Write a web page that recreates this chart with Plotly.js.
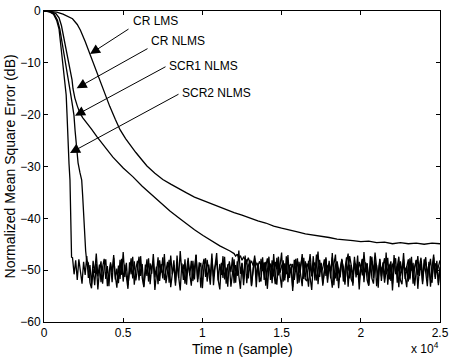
<!DOCTYPE html>
<html>
<head>
<meta charset="utf-8">
<script src="https://cdn.plot.ly/plotly-3.0.1.min.js"></script>
<style>
  html, body { margin: 0; padding: 0; background: #fff; }
  #chart { width: 453px; height: 359px; }
</style>
</head>
<body>
<div id="chart"></div>
<script>
// Learning curves: normalized MSE (dB) versus time n (samples)

// Sample spacing of the steady-state (noise floor) segments
const FLOOR_STEP = 100;

// CR LMS (slow convergence, no noise-floor segment within the window)
const crLmsX = [0, 400, 800, 1200, 1500, 1800, 2100, 2300, 2600, 2900, 3200, 3500, 3850, 4150, 4500, 4800,
  5150, 5450, 5800, 6200, 6500, 7000, 7500, 8000, 8500, 9000, 9500, 10000, 10500, 11000, 11500, 12000,
  12500, 13000, 13500, 14000, 14500, 15000, 15500, 16000, 16500, 17000, 17500, 18000, 18500, 19000,
  19500, 20000, 20500, 21000, 21500, 22000, 22500, 23000, 23500, 24000, 24500, 25000];
const crLmsY = [0, -0.1, -0.2, -0.6, -1.0, -1.5, -2.6, -3.7, -5.9, -8.4, -10.9, -13.2, -16.0, -18.4, -20.9, -22.9,
  -24.6, -25.9, -27.3, -28.8, -29.9, -31.3, -32.5, -33.4, -34.3, -35.1, -35.9, -36.5, -37.2, -37.8, -38.4, -38.9,
  -39.4, -40.0, -40.5, -40.9, -41.5, -41.9, -42.2, -42.6, -43.0, -43.2, -43.5, -43.7, -44.0, -44.1,
  -44.3, -44.5, -44.4, -44.7, -44.6, -44.9, -44.7, -44.9, -44.8, -45.0, -44.8, -44.9];

// CR NLMS transient
const crNlmsX = [0, 400, 750, 950, 1100, 1200, 1300, 1420, 1520, 1650, 1770, 1830, 1950, 2100, 2270, 2450,
  2710, 3000, 3350, 3800, 4350, 5000, 5620, 6200, 6880, 7450, 7950, 8500, 9030, 9500, 10040, 10600, 11100, 11740];
const crNlmsY = [0, -0.1, -0.5, -1.3, -2.8, -4.3, -6.2, -8.3, -9.8, -11.7, -13.3, -15.0, -16.8, -18.3, -19.7, -20.6,
  -21.6, -22.8, -24.3, -26.1, -28.2, -30.3, -32.0, -33.8, -35.7, -37.2, -38.6, -39.9, -41.2, -42.2, -43.3, -44.4, -45.3, -46.3];
// CR NLMS steady state, starting at n = 12000
const crNlmsFloorStart = 12000;
const crNlmsFloor = [
  -46.8,-47.3,-46.9,-47.8,-47.2,-48.1,-47.5,-47.9,-48.4,-47.6,-48.8,-48.2,-49.1,-48.0,-48.7,-49.4,-48.3,-49.0,-50.2,-48.6,
  -49.3,-47.7,-50.1,-48.9,-49.6,-51.2,-48.4,-49.8,-47.4,-50.5,-49.2,-48.6,-51.5,-49.0,-48.1,-50.3,-49.7,-48.8,-51.9,-49.4,
  -48.2,-50.6,-49.1,-47.6,-50.0,-51.3,-48.7,-49.5,-46.9,-50.8,-49.3,-48.5,-52.0,-49.8,-48.0,-50.4,-49.6,-47.9,-51.1,-49.2,
  -48.8,-50.2,-47.5,-49.7,-51.6,-48.3,-49.9,-50.7,-48.1,-49.4,-52.2,-48.9,-50.1,-47.3,-49.6,-51.0,-48.6,-49.0,-50.9,-48.4,
  -49.8,-47.8,-50.5,-49.3,-48.7,-51.7,-49.1,-48.2,-50.3,-46.6,-49.5,-51.4,-48.5,-50.0,-49.2,-47.7,-50.8,-49.7,-48.9,-52.1,
  -49.0,-48.3,-50.6,-49.4,-47.4,-51.2,-49.9,-48.6,-50.1,-49.3,-47.9,-51.5,-48.8,-50.4,-49.6,-48.0,-50.9,-49.1,-47.6,-51.0,
  -49.5,-48.4,-50.2,-49.8,-47.8,-51.3,-49.0,-48.7,-50.5,-49.2,-48.1];

// SCR1 NLMS transient
const scr1X = [0, 350, 650, 850, 1000, 1100, 1250, 1400, 1530, 1640, 1760, 1890, 1960, 2050, 2150, 2270, 2380,
  2440, 2500, 2560, 2630, 2690];
const scr1Y = [0, -0.1, -0.6, -1.8, -3.5, -5.2, -7.8, -10.4, -13.0, -15.2, -17.5, -20.1, -23.0, -26.0, -29.3, -31.2, -32.6,
  -35.6, -39.4, -42.8, -46.3, -48.1];
// SCR1 NLMS steady state, starting at n = 2800
const scr1FloorStart = 2800;
const scr1Floor = [
  -48.6,-52.4,-53.5,-49.8,-52.9,-48.7,-53.7,-50.2,-48.3,-52.6,-49.4,-47.9,-53.1,-50.5,-48.8,-52.3,-47.6,-51.0,-53.4,-49.1,
  -51.7,-47.8,-52.2,-48.9,-51.4,-53.6,-48.5,-50.8,-47.4,-52.8,-49.7,-48.2,-52.0,-47.3,-51.5,-53.2,-48.9,-51.1,-47.7,-52.7,
  -49.3,-48.4,-53.8,-50.1,-47.5,-52.1,-48.8,-51.6,-46.9,-52.5,-49.6,-48.0,-53.3,-50.7,-48.1,-52.4,-47.2,-51.3,-53.9,-48.7,
  -51.9,-47.9,-52.8,-48.5,-51.2,-53.0,-48.2,-51.8,-47.1,-52.3,-49.5,-48.6,-53.5,-49.2,-47.7,-52.2,-48.9,-51.4,-46.8,-52.9,
  -49.4,-48.1,-52.0,-53.7,-48.6,-51.5,-47.4,-52.6,-49.0,-48.8,-53.2,-50.0,-47.9,-52.4,-48.3,-51.1,-53.6,-48.7,-51.7,-47.2,
  -52.5,-49.2,-48.0,-52.9,-49.8,-47.6,-53.3,-48.6,-51.2,-52.2,-47.5,-51.9,-48.4,-53.6,-49.5,-48.7,-52.5,-46.9,-51.0,-52.8,
  -48.5,-51.7,-53.4,-48.1,-52.0,-47.3,-52.3,-49.1,-48.8,-54.0,-49.6,-47.8,-52.6,-48.4,-51.3,-53.1,-47.6,-51.8,-52.1,-48.2,
  -51.4,-53.8,-48.9,-51.0,-47.0,-52.7,-49.3,-48.6,-53.0,-49.9,-47.8,-52.4,-48.7,-51.6,-46.7,-52.9,-49.0,-48.4,-53.5,-49.7,
  -48.0,-52.2,-49.3,-47.5,-53.2,-48.9,-51.8,-52.5,-47.4,-51.4,-48.8,-53.7,-49.1,-47.9,-52.3,-48.5,-51.9,-53.0,-47.3,-51.6,
  -52.6,-48.7,-49.1,-53.4,-47.8,-52.1,-48.9,-51.7,-46.6,-52.8,-49.5,-48.3,-53.9,-49.2,-47.7,-52.4,-48.6,-51.9,-52.7,-47.9,
  -51.2,-53.3,-48.5,-51.8,-47.4,-52.6,-49.4,-48.1,-53.6,-49.6,-48.8,-52.2,-47.9,-51.0,-53.1,-48.4,-51.9,-52.4,-47.5,-51.7,
  -48.9,-52.9,-49.3];

// SCR2 NLMS transient
const scr2X = [0, 300, 600, 800, 950, 1010, 1100, 1200, 1270, 1330, 1400, 1450, 1515, 1580, 1640, 1680, 1710, 1740];
const scr2Y = [0, -0.1, -0.6, -1.8, -3.5, -5.2, -7.4, -9.5, -11.4, -13.3, -16.2, -19.7, -26.2, -29.5, -32.6, -37.0, -41.5, -47.5];
// SCR2 NLMS steady state, starting at n = 1800
const scr2FloorStart = 1800;
const scr2Floor = [
  -47.6,-50.8,-48.1,-51.9,-47.9,-50.2,-52.6,-48.4,-50.9,-47.3,-51.5,-49.0,-52.8,-48.2,-50.6,-46.8,-51.2,-48.9,-52.3,-49.4,
  -47.8,-51.7,-49.2,-53.1,-48.5,-50.4,-47.1,-51.8,-49.7,-52.5,-48.0,-50.9,-46.5,-51.3,-48.6,-52.9,-49.5,-47.7,-51.6,-48.3,
  -52.0,-49.1,-47.4,-51.1,-48.8,-53.3,-50.0,-47.9,-52.2,-48.7,-50.7,-46.9,-51.4,-49.3,-52.7,-48.1,-50.5,-47.5,-51.9,-49.8,
  -48.4,-52.4,-47.2,-50.8,-49.0,-53.0,-48.6,-51.5,-46.3,-50.3,-48.9,-52.6,-49.6,-47.6,-51.0,-48.2,-52.1,-49.9,-47.0,-51.7,
  -48.5,-53.4,-49.4,-47.8,-51.3,-48.0,-50.6,-52.8,-47.7,-51.2,-49.1,-46.7,-52.0,-48.8,-50.9,-47.3,-51.8,-49.5,-53.2,-48.3,
  -50.4,-47.5,-52.5,-49.0,-51.1,-46.2,-50.7,-48.6,-52.9,-49.3,-47.9,-51.6,-48.4,-53.1,-49.7,-47.2,-51.4,-48.9,-52.3,-47.8,
  -50.1,-48.5,-53.0,-49.6,-47.4,-51.9,-48.1,-50.5,-52.7,-47.6,-51.0,-49.2,-46.6,-52.2,-48.7,-50.8,-47.1,-51.5,-49.4,-53.3,
  -48.0,-50.3,-47.7,-52.4,-49.8,-46.9,-51.7,-48.3,-50.6,-53.2,-48.6,-51.2,-47.3,-52.0,-49.1,-46.4,-51.3,-48.8,-52.6,-49.5,
  -47.5,-51.8,-48.2,-50.9,-53.4,-48.9,-47.0,-52.1,-49.7,-51.4,-47.8,-50.2,-52.8,-48.4,-46.8,-51.6,-49.0,-53.0,-48.1,-50.7,
  -47.2,-52.3,-49.3,-51.0,-46.5,-50.4,-48.7,-52.9,-49.6,-47.4,-51.5,-48.0,-53.1,-49.9,-47.9,-51.2,-48.5,-52.4,-50.0,-47.6,
  -51.8,-48.9,-52.6,-47.1,-50.8,-49.2,-53.3,-48.3,-50.5,-46.7,-51.7,-49.4,-52.2,-47.7,-50.1,-48.6,-53.0,-49.8,-47.3,-51.1,
  -48.4,-52.7,-49.0,-47.5,-51.6,-48.8,-53.2,-49.5,-47.0,-51.3,-48.2,-52.5,-49.7];

// Axis ticks (x is shown in units of 10^4 samples)
const xTickVals = [0, 5000, 10000, 15000, 20000, 25000];
const xTickText = ['0', '0.5', '1', '1.5', '2', '2.5'];
const yTickVals = [0, -10, -20, -30, -40, -50, -60];

// Curve labels: [text, arrow tip (n, dB), arrow tail (n, dB), label left edge (n, dB)]
const curveLabels = [
  ['CR LMS',    [2904, -8.3],  [5429, -3.3],  [5492, -1.9]],
  ['CR NLMS',   [2062, -14.9], [6629, -7.1],  [6629, -5.8]],
  ['SCR1 NLMS', [1957, -20.2], [7765, -10.6], [7765, -10.6]],
  ['SCR2 NLMS', [1641, -27.4], [8586, -15.9], [8586, -15.9]]
];

// Joins a transient segment with its uniformly sampled steady-state segment
function withFloor(x, y, floorStart, floor) {
  return {
    x: x.concat(floor.map((_, i) => floorStart + i * FLOOR_STEP)),
    y: y.concat(floor)
  };
}

const FONT = 'Liberation Sans, Arial, Helvetica, sans-serif';
const lineStyle = { color: '#000', width: 1.3 };

const crNlms = withFloor(crNlmsX, crNlmsY, crNlmsFloorStart, crNlmsFloor);
const scr1 = withFloor(scr1X, scr1Y, scr1FloorStart, scr1Floor);
const scr2 = withFloor(scr2X, scr2Y, scr2FloorStart, scr2Floor);

const traces = [
  { name: 'CR LMS', x: crLmsX, y: crLmsY, mode: 'lines', line: lineStyle },
  { name: 'CR NLMS', x: crNlms.x, y: crNlms.y, mode: 'lines', line: lineStyle },
  { name: 'SCR1 NLMS', x: scr1.x, y: scr1.y, mode: 'lines', line: lineStyle },
  { name: 'SCR2 NLMS', x: scr2.x, y: scr2.y, mode: 'lines', line: lineStyle }
];

const annotations = [];
curveLabels.forEach(([label, tip, tail, pos]) => {
  annotations.push({
    xref: 'x', yref: 'y', axref: 'x', ayref: 'y',
    x: tip[0], y: tip[1], ax: tail[0], ay: tail[1],
    text: '', showarrow: true, arrowhead: 2, arrowsize: 2, arrowwidth: 1, arrowcolor: '#000', standoff: 0
  });
  annotations.push({
    xref: 'x', yref: 'y', x: pos[0], y: pos[1], text: label, showarrow: false,
    xanchor: 'left', yanchor: 'middle', font: { family: FONT, size: 12, color: '#000' }
  });
});

// Axis titles and the x-axis exponent
annotations.push({
  xref: 'paper', yref: 'paper', x: 0.5, y: -0.087, text: 'Time n (sample)', showarrow: false,
  xanchor: 'center', yanchor: 'middle', font: { family: FONT, size: 14, color: '#000' }
});
annotations.push({
  xref: 'paper', yref: 'paper', x: -0.086, y: 0.5, text: 'Normalized Mean Square Error (dB)', showarrow: false,
  textangle: -90, xanchor: 'center', yanchor: 'middle', font: { family: FONT, size: 14, color: '#000' }
});
annotations.push({
  xref: 'paper', yref: 'paper', x: 1.0, y: -0.112, text: 'x 10<sup>4</sup>', showarrow: false,
  xanchor: 'right', yanchor: 'bottom', borderpad: 0, font: { family: FONT, size: 12, color: '#000' }
});

const axisCommon = {
  showgrid: false, zeroline: false, showline: true, linecolor: '#000', linewidth: 1,
  mirror: 'ticks', ticks: 'inside', ticklen: 4, tickwidth: 1, tickcolor: '#000',
  tickfont: { family: FONT, size: 12, color: '#000' }, fixedrange: true
};

const layout = {
  width: 453, height: 359,
  margin: { l: 44, r: 13, t: 11, b: 37, pad: 0 },
  paper_bgcolor: '#fff', plot_bgcolor: '#fff',
  showlegend: false,
  xaxis: Object.assign({}, axisCommon, {
    range: [0, 25000], tickmode: 'array', tickvals: xTickVals, ticktext: xTickText
  }),
  yaxis: Object.assign({}, axisCommon, {
    range: [-60, 0], tickmode: 'array', tickvals: yTickVals
  }),
  annotations: annotations
};

Plotly.newPlot('chart', traces, layout, { displayModeBar: false, staticPlot: true });
</script>
</body>
</html>
